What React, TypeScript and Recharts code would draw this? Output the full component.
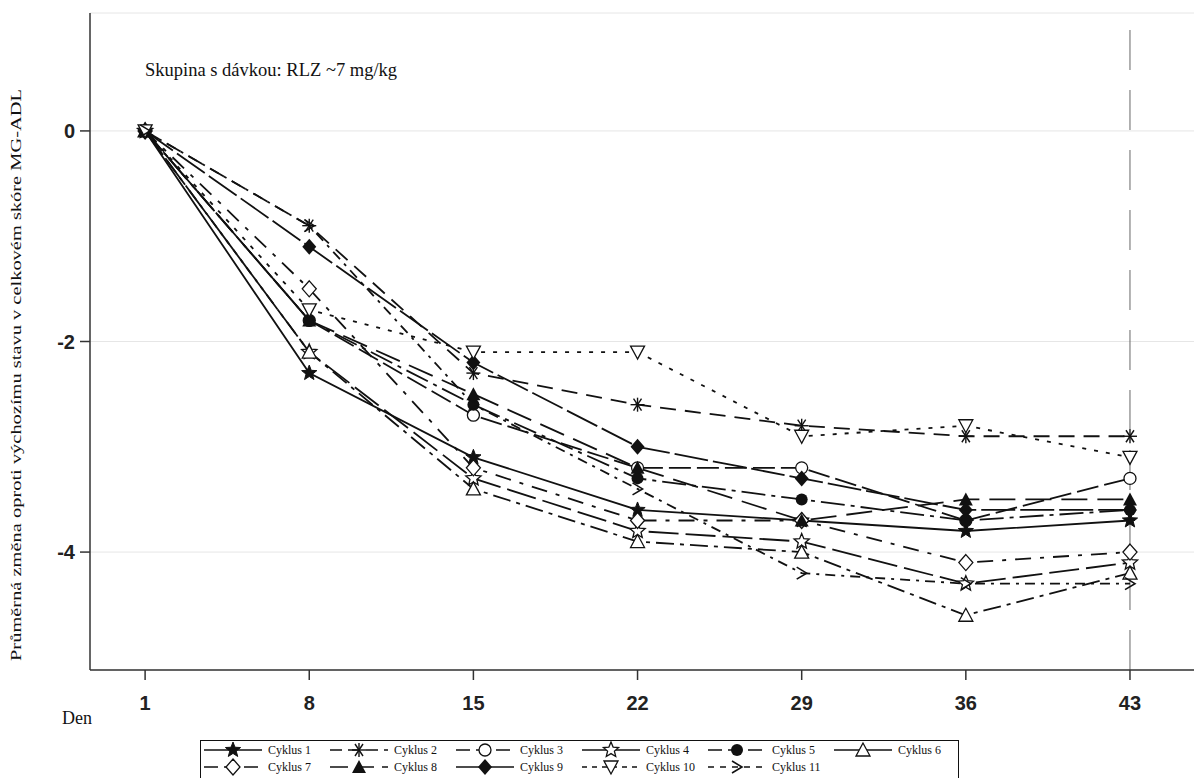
import React from "react";
import {
  CartesianGrid,
  Line,
  LineChart,
  ReferenceLine,
  XAxis,
  YAxis,
} from "recharts";

// study days and mean change per cycle
const days = [1, 8, 15, 22, 29, 36, 43];
const cyklus1 = [0, -2.3, -3.1, -3.6, -3.7, -3.8, -3.7];
const cyklus2 = [0, -0.9, -2.3, -2.6, -2.8, -2.9, -2.9];
const cyklus3 = [0, -1.8, -2.7, -3.2, -3.2, -3.7, -3.3];
const cyklus4 = [0, -2.1, -3.3, -3.8, -3.9, -4.3, -4.1];
const cyklus5 = [0, -1.8, -2.6, -3.3, -3.5, -3.7, -3.6];
const cyklus6 = [0, -2.1, -3.4, -3.9, -4.0, -4.6, -4.2];
const cyklus7 = [0, -1.5, -3.2, -3.7, -3.7, -4.1, -4.0];
const cyklus8 = [0, -1.8, -2.5, -3.2, -3.7, -3.5, -3.5];
const cyklus9 = [0, -1.1, -2.2, -3.0, -3.3, -3.6, -3.6];
const cyklus10 = [0, -1.7, -2.1, -2.1, -2.9, -2.8, -3.1];
const cyklus11 = [0, -0.9, -2.6, -3.4, -4.2, -4.3, -4.3];

const seriesNames = [
  "Cyklus 1", "Cyklus 2", "Cyklus 3", "Cyklus 4", "Cyklus 5", "Cyklus 6",
  "Cyklus 7", "Cyklus 8", "Cyklus 9", "Cyklus 10", "Cyklus 11",
];
const seriesValues = [
  cyklus1, cyklus2, cyklus3, cyklus4, cyklus5, cyklus6,
  cyklus7, cyklus8, cyklus9, cyklus10, cyklus11,
];
const yTicks = [0, -2, -4];

type Shape =
  | "starFill" | "asterisk" | "circle" | "starOpen" | "circleFill" | "triangle"
  | "diamond" | "triangleFill" | "diamondFill" | "triangleDown" | "chevron";

// marker + dash pattern for each cycle, same order as seriesNames
const looks: Array<{ shape: Shape; dash: string }> = [
  { shape: "starFill", dash: "" },
  { shape: "asterisk", dash: "16 9" },
  { shape: "circle", dash: "22 6" },
  { shape: "starOpen", dash: "30 7" },
  { shape: "circleFill", dash: "24 6 4 6" },
  { shape: "triangle", dash: "18 6 4 6" },
  { shape: "diamond", dash: "16 9 4 9" },
  { shape: "triangleFill", dash: "26 10" },
  { shape: "diamondFill", dash: "34 5" },
  { shape: "triangleDown", dash: "4 8" },
  { shape: "chevron", dash: "10 6 3 6" },
];
// legend samples are drawn a bit differently in the original
const legendDash = ["", "12 6", "14 6", "", "14 6", "", "14 6", "18 8", "", "5 5", "6 6"];

const data = days.map((day, i) => {
  const row: Record<string, number> = { day };
  seriesValues.forEach((vals, s) => {
    row[`c${s + 1}`] = vals[i];
  });
  return row;
});

const INK = "#111";

function starPoints(cx: number, cy: number, ro: number, ri: number) {
  const pts: string[] = [];
  for (let k = 0; k < 10; k++) {
    const r = k % 2 === 0 ? ro : ri;
    const a = -Math.PI / 2 + (k * Math.PI) / 5;
    pts.push(`${cx + r * Math.cos(a)},${cy + r * Math.sin(a)}`);
  }
  return pts.join(" ");
}

function Marker({ shape, cx, cy }: { shape: Shape; cx: number; cy: number }) {
  const r = 7;
  switch (shape) {
    case "starFill":
      return <polygon points={starPoints(cx, cy, 8, 3.4)} fill={INK} stroke={INK} strokeWidth={1} />;
    case "starOpen":
      return <polygon points={starPoints(cx, cy, 8, 3.6)} fill="#fff" stroke={INK} strokeWidth={1.3} />;
    case "asterisk":
      return (
        <g stroke={INK} strokeWidth={1.4}>
          <line x1={cx - r} y1={cy} x2={cx + r} y2={cy} />
          <line x1={cx - 4} y1={cy - 6} x2={cx + 4} y2={cy + 6} />
          <line x1={cx - 4} y1={cy + 6} x2={cx + 4} y2={cy - 6} />
          <line x1={cx} y1={cy - r} x2={cx} y2={cy + r} />
        </g>
      );
    case "circle":
      return <circle cx={cx} cy={cy} r={6} fill="#fff" stroke={INK} strokeWidth={1.3} />;
    case "circleFill":
      return <circle cx={cx} cy={cy} r={6} fill={INK} />;
    case "triangle":
      return <polygon points={`${cx},${cy - 7} ${cx - 7},${cy + 6} ${cx + 7},${cy + 6}`} fill="#fff" stroke={INK} strokeWidth={1.3} />;
    case "triangleFill":
      return <polygon points={`${cx},${cy - 7} ${cx - 7},${cy + 6} ${cx + 7},${cy + 6}`} fill={INK} />;
    case "triangleDown":
      return <polygon points={`${cx},${cy + 7} ${cx - 7},${cy - 6} ${cx + 7},${cy - 6}`} fill="#fff" stroke={INK} strokeWidth={1.3} />;
    case "diamond":
      return <polygon points={`${cx},${cy - 8} ${cx + 7},${cy} ${cx},${cy + 8} ${cx - 7},${cy}`} fill="#fff" stroke={INK} strokeWidth={1.3} />;
    case "diamondFill":
      return <polygon points={`${cx},${cy - 8} ${cx + 7},${cy} ${cx},${cy + 8} ${cx - 7},${cy}`} fill={INK} />;
    case "chevron":
      return <polyline points={`${cx - 5},${cy - 6} ${cx + 5},${cy} ${cx - 5},${cy + 6}`} fill="none" stroke={INK} strokeWidth={1.6} />;
    default:
      return null;
  }
}

const dotFor = (shape: Shape) => (props: any) => {
  const { cx, cy, index } = props;
  if (cx == null || cy == null) return <g key={`e-${index}`} />;
  return (
    <g key={`${shape}-${index}`}>
      <Marker shape={shape} cx={cx} cy={cy} />
    </g>
  );
};

// legend grid: 6 columns, 2 rows
function ChartLegend() {
  const colX = [204, 330, 456, 582, 708, 834];
  const rowY = [750, 767];
  return (
    <svg
      width={1194}
      height={778}
      style={{ position: "absolute", left: 0, top: 0, pointerEvents: "none" }}
    >
      <rect x={200.5} y={740.5} width={758} height={40} fill="none" stroke={INK} strokeWidth={1} />
      {seriesNames.map((name, i) => {
        const x = colX[i % 6];
        const y = rowY[Math.floor(i / 6)];
        const look = looks[i];
        return (
          <g key={name}>
            <line
              x1={x}
              y1={y}
              x2={x + 58}
              y2={y}
              stroke={INK}
              strokeWidth={1.5}
              strokeDasharray={legendDash[i] || undefined}
            />
            <Marker shape={look.shape} cx={x + 29} cy={y} />
            <text x={x + 64} y={y + 4} fontSize={12} fontFamily='"Liberation Serif", serif' fill={INK}>
              {name}
            </text>
          </g>
        );
      })}
    </svg>
  );
}

function Annotations() {
  return (
    <svg
      width={1194}
      height={778}
      style={{ position: "absolute", left: 0, top: 0, pointerEvents: "none" }}
    >
      <text x={145} y={76} fontSize={18.5} fontFamily='"Liberation Serif", serif' fill={INK}>
        Skupina s dávkou: RLZ ~7 mg/kg
      </text>
      <text
        transform="translate(21,375) rotate(-90)"
        textAnchor="middle"
        fontSize={15}
        fontFamily='"Liberation Serif", serif'
        fill={INK}
        textLength={572}
        lengthAdjust="spacingAndGlyphs"
      >
        Průměrná změna oproti výchozímu stavu v celkovém skóre MG-ADL
      </text>
      <text x={62} y={724} fontSize={18} fontFamily='"Liberation Serif", serif' fill={INK}>
        Den
      </text>
    </svg>
  );
}

export default function App() {
  const tickStyle = {
    fontFamily: '"Liberation Sans Narrow", "Liberation Sans", sans-serif',
    fontWeight: 700,
    fontSize: 20,
    fill: "#222",
  };
  return (
    <div style={{ position: "absolute", left: 0, top: 0, width: 1194, height: 778, background: "#fff" }}>
      <LineChart width={1194} height={730} data={data} margin={{ top: 13, right: 0, bottom: 0, left: 0 }}>
        <CartesianGrid vertical={false} stroke="#e6e6e6" />
        <XAxis
          dataKey="day"
          type="number"
          domain={[-1.35, 45.73]}
          ticks={days}
          height={60}
          tickSize={10}
          tickMargin={16}
          stroke="#333"
          strokeWidth={1.5}
          tick={tickStyle}
          allowDataOverflow
        />
        <XAxis
          xAxisId="top"
          orientation="top"
          dataKey="day"
          type="number"
          domain={[-1.35, 45.73]}
          height={0}
          tick={false}
          tickLine={false}
          stroke="#333"
          strokeWidth={1.5}
        />
        <YAxis
          type="number"
          domain={[-5.12, 1.12]}
          ticks={yTicks}
          width={90}
          tickSize={10}
          tickMargin={5}
          stroke="#333"
          strokeWidth={1.5}
          tick={tickStyle}
          allowDataOverflow
        />
        <ReferenceLine x={43} stroke="#666" strokeWidth={1} strokeDasharray="40 20" />
        {seriesNames.map((name, i) => (
          <Line
            key={name}
            name={name}
            dataKey={`c${i + 1}`}
            type="linear"
            stroke={INK}
            strokeWidth={1.8}
            strokeDasharray={looks[i].dash || undefined}
            dot={dotFor(looks[i].shape)}
            activeDot={false}
            isAnimationActive={false}
          />
        ))}
      </LineChart>
      <Annotations />
      <ChartLegend />
    </div>
  );
}
